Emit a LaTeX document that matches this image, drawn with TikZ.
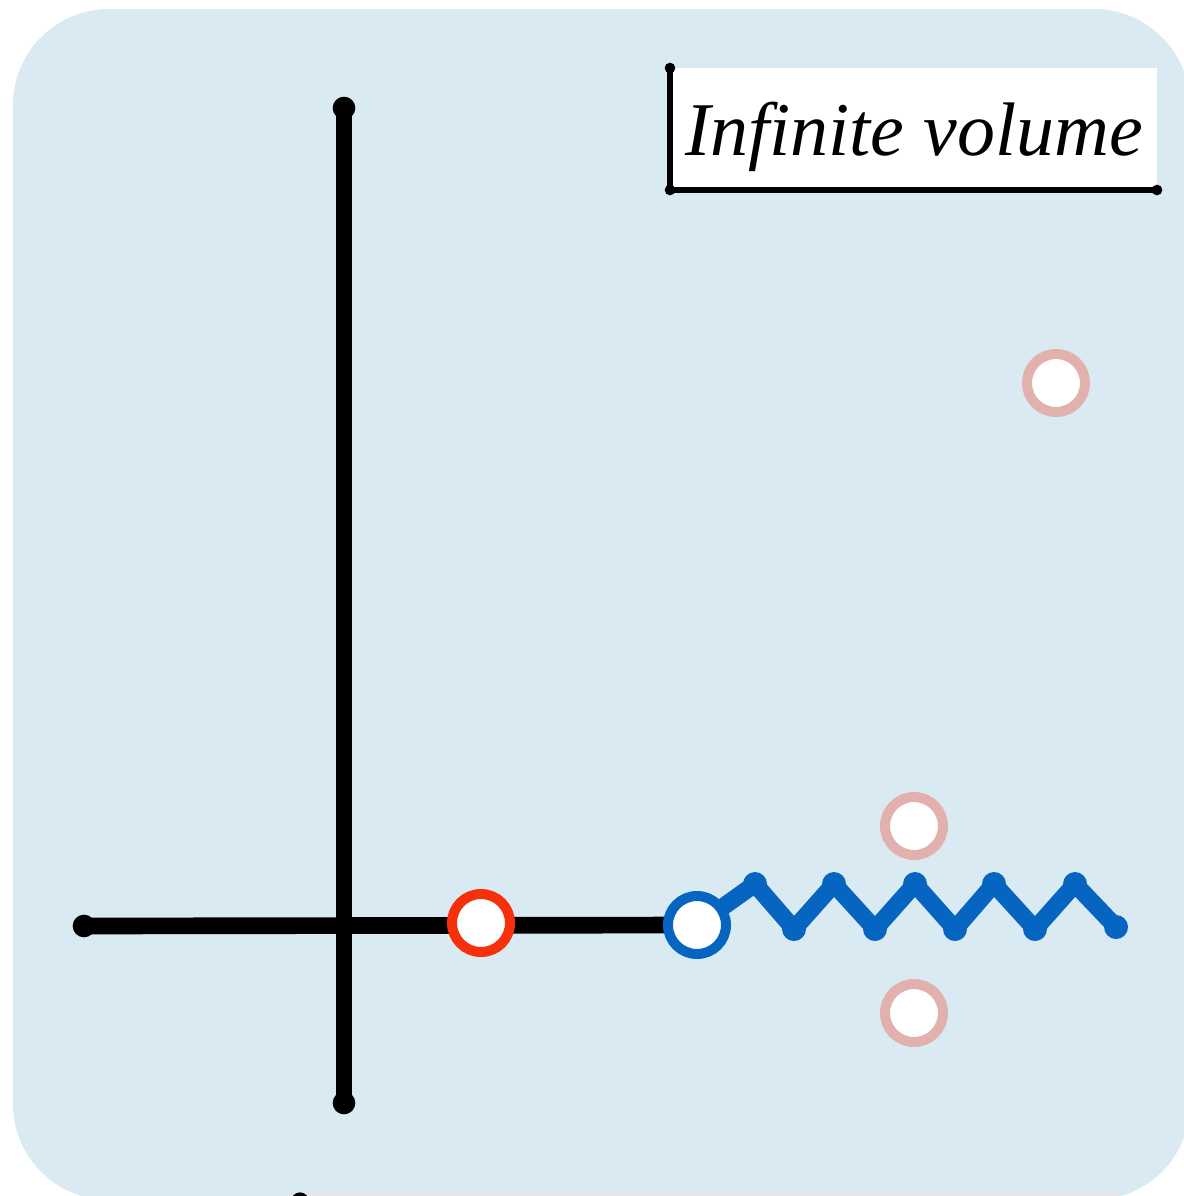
\documentclass[tikz,border=0pt]{standalone}
\usepackage{fontspec}
\setmainfont{Liberation Serif}
\definecolor{bgblue}{HTML}{DAEAF3}
\definecolor{zigblue}{HTML}{0565C0}
\definecolor{hotred}{HTML}{F5300A}
\definecolor{pinkish}{HTML}{E2B1AE}
\begin{document}
\begin{tikzpicture}[x=0.75pt,y=-0.75pt,
  axis/.style={line width=12.5pt, line cap=round, line join=round, black},
  hole/.style={circle, fill=white, line width=7.5pt, minimum size=43.5pt, inner sep=0pt},
  zig/.style={line width=13pt, line cap=round, line join=round, zigblue},
  frameline/.style={line width=4pt, line cap=round, black}]
\useasboundingbox (0,0) rectangle (1184,1196);
\fill[bgblue, rounded corners=72pt] (13,9) rectangle (1190,1200);
% faint bottom shadow and cut dot
\fill[black!10] (290,1193) rectangle (1120,1196);
\fill[black] (300,1201) circle (6.5pt);
% axes
\coordinate (vt) at (344,108);
\coordinate (vb) at (344,1103);
\coordinate (hl) at (84,926);
\coordinate (rc) at (481,923);
\coordinate (bc) at (697,925);
\draw[axis] (vt) -- (vb);
\draw[axis] (hl) -- (bc);
\foreach \p in {vt,vb,hl} \fill (\p) circle (8.5pt);
% points
\node[hole, draw=hotred] (r) at (rc) {};
\node[hole, draw=zigblue] (b) at (bc) {};
\node[hole, draw=pinkish] (p1) at (1056,383) {};
\node[hole, draw=pinkish] (p2) at (914,826) {};
\node[hole, draw=pinkish] (p3) at (914,1013) {};
% branch cut
\draw[zig] (b.35) -- (755,884) -- (794,929) -- (834,884) -- (875,929) -- (915,884) -- (955,929) -- (994,884) -- (1035,929) -- (1075,884) -- (1116,927);
\foreach \q in {(755,884),(794,929),(834,884),(875,929),(915,884),(955,929),(994,884),(1035,929),(1075,884),(1116,927)}
  \fill[zigblue] \q circle (9pt);
% label
\fill[white] (670,68) rectangle (1157,190);
\coordinate (ft) at (670,68);
\coordinate (fc) at (670,190);
\coordinate (fr) at (1157,190);
\draw[frameline] (ft) -- (fc) -- (fr);
\foreach \p in {ft,fc,fr} \fill (\p) circle (4pt);
\node[anchor=base, inner sep=0pt] (lbl) at (914,155) {\resizebox{343pt}{!}{\itshape\fontsize{54}{60}\selectfont Infinite volume}};
\end{tikzpicture}
\end{document}
